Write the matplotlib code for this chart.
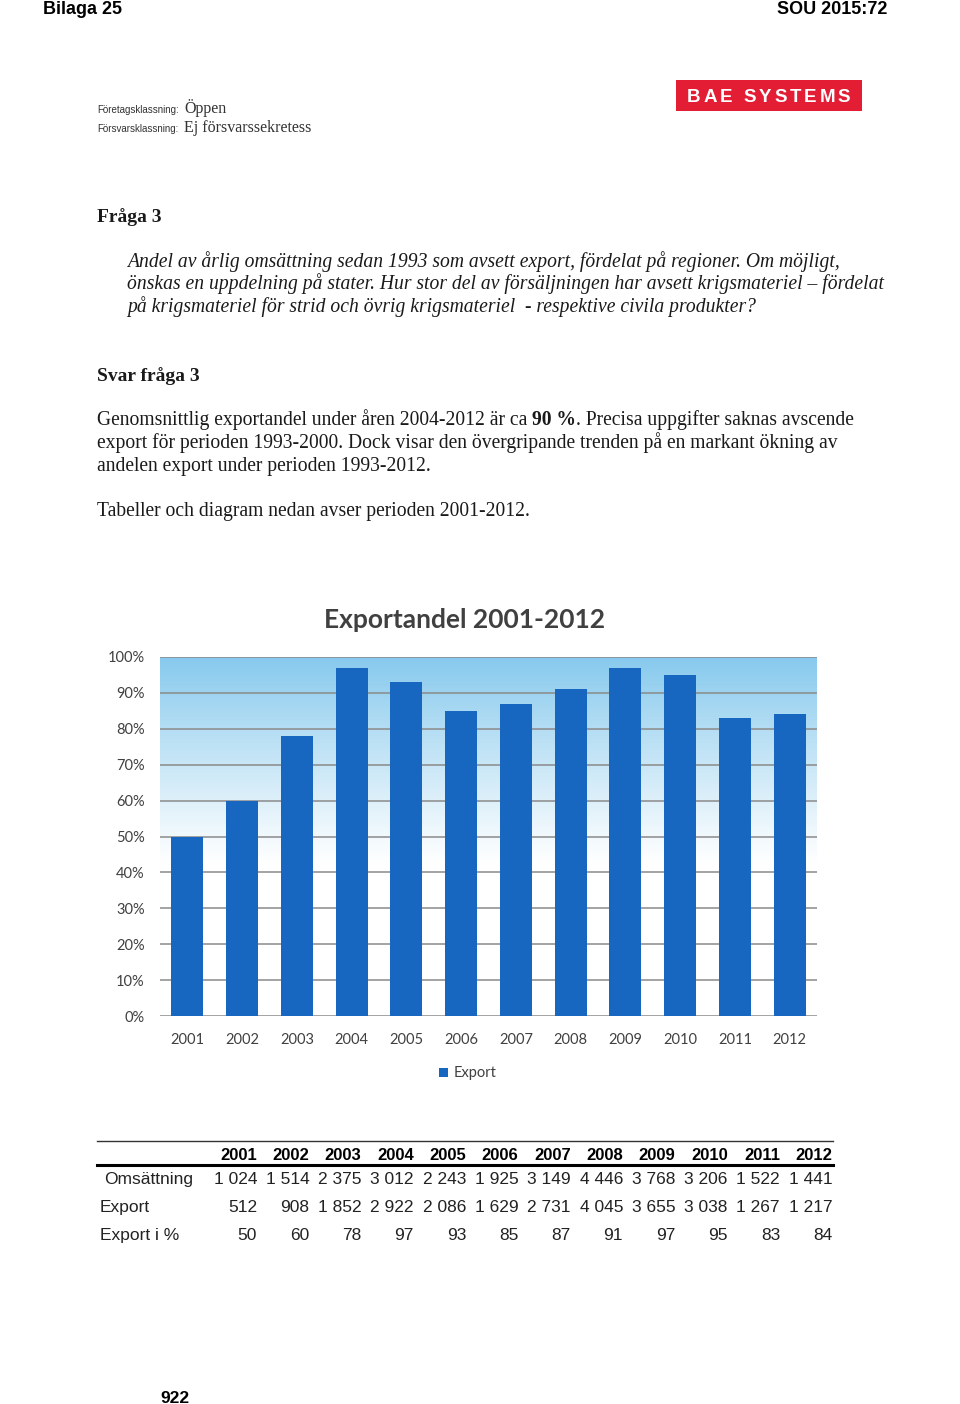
"""Bilaga 25 - Exportandel 2001-2012 (BAE Systems), sidan återskapad."""
import numpy as np
import matplotlib
matplotlib.use("Agg")
import matplotlib.pyplot as plt
from matplotlib.patches import Rectangle
from matplotlib.lines import Line2D

# ── Data ────────────────────────────────────────────────────────────────────
years = [2001, 2002, 2003, 2004, 2005, 2006, 2007, 2008, 2009, 2010, 2011, 2012]
export_pct = [50, 60, 78, 97, 93, 85, 87, 91, 97, 95, 83, 84]
omsattning = [1024, 1514, 2375, 3012, 2243, 1925, 3149, 4446, 3768, 3206, 1522, 1441]
export_mkr = [512, 908, 1852, 2922, 2086, 1629, 2731, 4045, 3655, 3038, 1267, 1217]
yticks = [0, 10, 20, 30, 40, 50, 60, 70, 80, 90, 100]

W, H = 960, 1404
SERIF = ["Liberation Serif", "DejaVu Serif"]
SANS = ["Liberation Sans", "DejaVu Sans"]
NARROW = ["Liberation Sans Narrow", "Liberation Sans", "DejaVu Sans"]
CHART = ["Lato", "DejaVu Sans"]
BAR = "#1766bf"
TXT = "#1a1a1a"
BODY = 14.1


def fx(px):
    return px / W


def fy(py):
    return 1 - py / H


fig = plt.figure(figsize=(W / 100, H / 100), dpi=100, facecolor="white")
renderer = fig.canvas.get_renderer()


def put(px, py, s, **kw):
    kw.setdefault("color", TXT)
    kw.setdefault("va", "baseline")
    return fig.text(fx(px), fy(py), s, **kw)


def put_runs(px, py, runs, **kw):
    """Text i flera delar (t.ex. fet mitt i raden)."""
    x = px
    for s, extra in runs:
        t = put(x, py, s, **kw, **extra)
        bb = t.get_window_extent(renderer)
        x += bb.width


# ── Sidhuvud ────────────────────────────────────────────────────────────────
put(43, 14, "Bilaga 25", family=NARROW, fontsize=13, fontweight="bold", color="black")
put(887, 14, "SOU 2015:72", family=NARROW, fontsize=13, fontweight="bold",
    color="black", ha="right")

# BAE-logga
fig.patches.append(Rectangle((fx(676), fy(111)), fx(862) - fx(676), fy(80) - fy(111),
                             transform=fig.transFigure, facecolor="#e21d34",
                             edgecolor="none"))
x = 687
for ch in "BAE SYSTEMS":
    t = put(x, 102, ch, family=SANS, fontsize=13.5, fontweight="bold", color="white")
    x += t.get_window_extent(renderer).width + 2.9

put(97, 113, "Företagsklassning:", family=SANS, fontsize=7, color="#333333")
put(184, 113, "Öppen", family=SERIF, fontsize=11.5, color="#333333")
put(97, 132, "Försvarsklassning:", family=SANS, fontsize=7, color="#333333")
put(184, 132, "Ej försvarssekretess", family=SERIF, fontsize=11.5, color="#333333")

# ── Fråga och svar ─────────────────────────────────────────────────────────
put(97, 222, "Fråga 3", family=SERIF, fontsize=14, fontweight="bold")
q_lines = [
    "Andel av årlig omsättning sedan 1993 som avsett export, fördelat på regioner. Om möjligt,",
    "önskas en uppdelning på stater. Hur stor del av försäljningen har avsett krigsmateriel – fördelat",
    "på krigsmateriel för strid och övrig krigsmateriel  - respektive civila produkter?",
]
for i, line in enumerate(q_lines):
    put(127, 267 + i * 22.5, line, family=SERIF, fontsize=BODY, style="italic")

put(97, 381, "Svar fråga 3", family=SERIF, fontsize=14, fontweight="bold")
put_runs(97, 425, [
    ("Genomsnittlig exportandel under åren 2004-2012 är ca ", {}),
    ("90 %", {"fontweight": "bold"}),
    (". Precisa uppgifter saknas avscende", {}),
], family=SERIF, fontsize=BODY)
put(97, 448, "export för perioden 1993-2000. Dock visar den övergripande trenden på en markant ökning av",
    family=SERIF, fontsize=BODY)
put(97, 471, "andelen export under perioden 1993-2012.", family=SERIF, fontsize=BODY)
put(97, 516, "Tabeller och diagram nedan avser perioden 2001-2012.", family=SERIF, fontsize=BODY)

# ── Diagram ─────────────────────────────────────────────────────────────────
ax = fig.add_axes([fx(160), fy(1016), fx(817) - fx(160), fy(657) - fy(1016)])
x_pos = np.arange(len(years))
ax.set_xlim(-0.5, len(years) - 0.5)
ax.set_ylim(0, 100)

# bakgrundsgradient (ljusblå upptill -> vit)
grad = np.linspace(0, 1, 256)
alpha = np.clip((grad - 0.42) / 0.58, 0, 1) ** 1.1
img = np.ones((256, 1, 4))
img[:, 0, 0] = 1 - alpha * (1 - 0.53)
img[:, 0, 1] = 1 - alpha * (1 - 0.79)
img[:, 0, 2] = 1 - alpha * (1 - 0.93)
ax.imshow(img, extent=[-0.5, len(years) - 0.5, 0, 100], origin="lower",
          aspect="auto", zorder=0)

for v in yticks:
    ax.axhline(v, color="#8a8a8a", linewidth=1.1, zorder=1)
ax.bar(x_pos, export_pct, width=0.58, color=BAR, zorder=2)

for s in ax.spines.values():
    s.set_visible(False)
ax.set_yticks(yticks)
ax.set_yticklabels([f"{v}%" for v in yticks], family=CHART, fontsize=10.5, color="#404040")
ax.set_xticks(x_pos)
ax.set_xticklabels([str(y) for y in years], family=CHART, fontsize=10.5, color="#404040")
ax.tick_params(axis="y", length=0, pad=11)
ax.tick_params(axis="x", length=0, pad=12)

put(465, 628, "Exportandel 2001-2012", family=CHART, fontsize=19, fontweight="bold",
    color="#404040", ha="center")

# förklaring
fig.patches.append(Rectangle((fx(439), fy(1077)), fx(9), fy(0) - fy(9),
                             transform=fig.transFigure, facecolor=BAR, edgecolor="none"))
put(454, 1077, "Export", family=CHART, fontsize=10.5, color="#404040")

# ── Tabell ──────────────────────────────────────────────────────────────────
fig.lines.append(Line2D([fx(97), fx(833)], [fy(1141), fy(1141)], transform=fig.transFigure,
                        color="#333333", linewidth=1.0))
fig.lines.append(Line2D([fx(97), fx(833)], [fy(1165), fy(1165)], transform=fig.transFigure,
                        color="black", linewidth=2.2))

col_right = [257 + i * 52.3 for i in range(len(years))]


def fmt(v):
    return f"{v:,}".replace(",", " ")


rows = [
    ("Omsättning", [fmt(v) for v in omsattning], 104, 1184),
    ("Export", [fmt(v) for v in export_mkr], 100, 1212),
    ("Export i %", [str(v) for v in export_pct], 100, 1240),
]
for xr, yr in zip(col_right, years):
    put(xr, 1160, str(yr), family=NARROW, fontsize=12, fontweight="bold",
        color="black", ha="right")
for label, vals, lx, py in rows:
    put(lx, py, label, family=NARROW, fontsize=12.5, color="#222222")
    for xr, v in zip(col_right, vals):
        put(xr, py, v, family=NARROW, fontsize=12.5, color="#222222", ha="right")

# sidnummer
put(175, 1403, "922", family=SANS, fontsize=12.5, fontweight="bold", color="black", ha="center")

plt.savefig("out.png", dpi=100, facecolor="white")
